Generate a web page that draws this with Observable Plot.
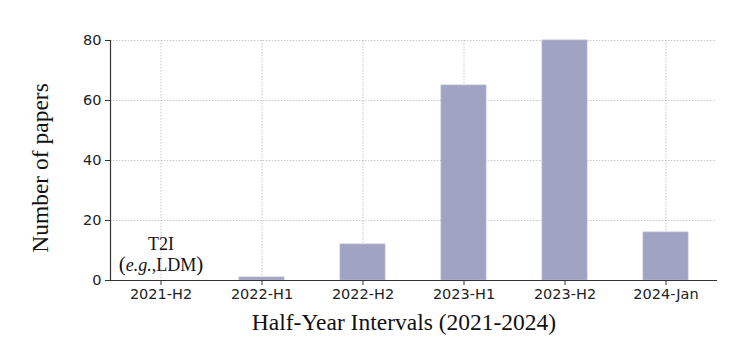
<!DOCTYPE html>
<html><head><meta charset="utf-8">
<script src="https://cdn.jsdelivr.net/npm/d3@7"></script>
<script src="https://cdn.jsdelivr.net/npm/@observablehq/plot@0.6"></script>
<style>
body{margin:0;background:#fff;}
#chart{position:relative;width:747px;height:347px;}
</style></head>
<body><div id="chart"></div>
<script>
const categories = ["2021-H2","2022-H1","2022-H2","2023-H1","2023-H2","2024-Jan"];
const counts = [0, 1, 12, 65, 80, 16];
const yTicks = [0, 20, 40, 60, 80];
const noteLine1 = "T2I";
const noteLine2 = "(e.g.,LDM)";
const data = categories.map((c,i)=>({cat:c, n:counts[i]}));

const plot = Plot.plot({
  width: 747, height: 347,
  marginLeft: 110, marginRight: 31, marginTop: 40, marginBottom: 67,
  style: {fontFamily: "DejaVu Sans", fontSize: "14px", color: "#222", background: "#fff"},
  x: {domain: categories, paddingInner: 0.55, paddingOuter: 0.275, label: null},
  y: {domain: [0, 80], ticks: yTicks, label: null},
  marks: [
    Plot.gridX({stroke: "#b0b0b0", strokeOpacity: 1, strokeDasharray: "1.5,1.5", strokeWidth: 0.7}),
    Plot.gridY(yTicks, {stroke: "#b0b0b0", strokeOpacity: 1, strokeDasharray: "1.5,1.5", strokeWidth: 0.7}),
    Plot.barY(data, {x: "cat", y: "n", fill: "#a1a3c2", stroke: "#b4b6d0", strokeWidth: 0.8}),
    Plot.axisX({tickSize: 5, tickPadding: 3, fontSize: 14.5, stroke: "#333", label: null}),
    Plot.axisY(yTicks, {tickSize: 5, tickPadding: 4, fontSize: 14.5, stroke: "#333", label: null}),
    Plot.frame({anchor: "left", stroke: "#333", strokeWidth: 1.2}),
    Plot.frame({anchor: "bottom", stroke: "#333", strokeWidth: 1.2}),
    Plot.text([noteLine1], {x: () => categories[0], y: () => 0, dy: -36, text: d => d, fontFamily: "Liberation Serif", fontSize: 18, fill: "#111", className: "note1"}),
    Plot.text([noteLine2], {x: () => categories[0], y: () => 0, dy: -15, text: d => d, fontFamily: "Liberation Serif", fontSize: 18, fill: "#111", className: "note2"})
  ]
});

// rich text for the italic "e.g."
d3.select(plot).selectAll(".note2 text").each(function(){
  const t = d3.select(this);
  t.text(null);
  t.append("tspan").text("(").attr("font-size", 21);
  t.append("tspan").text("e.g.").attr("font-style", "italic");
  t.append("tspan").text(",LDM");
  t.append("tspan").text(")").attr("font-size", 21);
});

const svg = d3.select(plot);
svg.append("text").attr("x", 404).attr("y", 330).attr("text-anchor", "middle")
  .attr("font-family", "Liberation Serif").attr("font-size", 23.5).attr("fill", "#111")
  .text("Half-Year Intervals (2021-2024)");
svg.append("text").attr("transform", "translate(48,168) rotate(-90)").attr("text-anchor", "middle")
  .attr("font-family", "Liberation Serif").attr("font-size", 23.5).attr("fill", "#111")
  .text("Number of papers");

document.getElementById("chart").appendChild(plot);
</script></body></html>
